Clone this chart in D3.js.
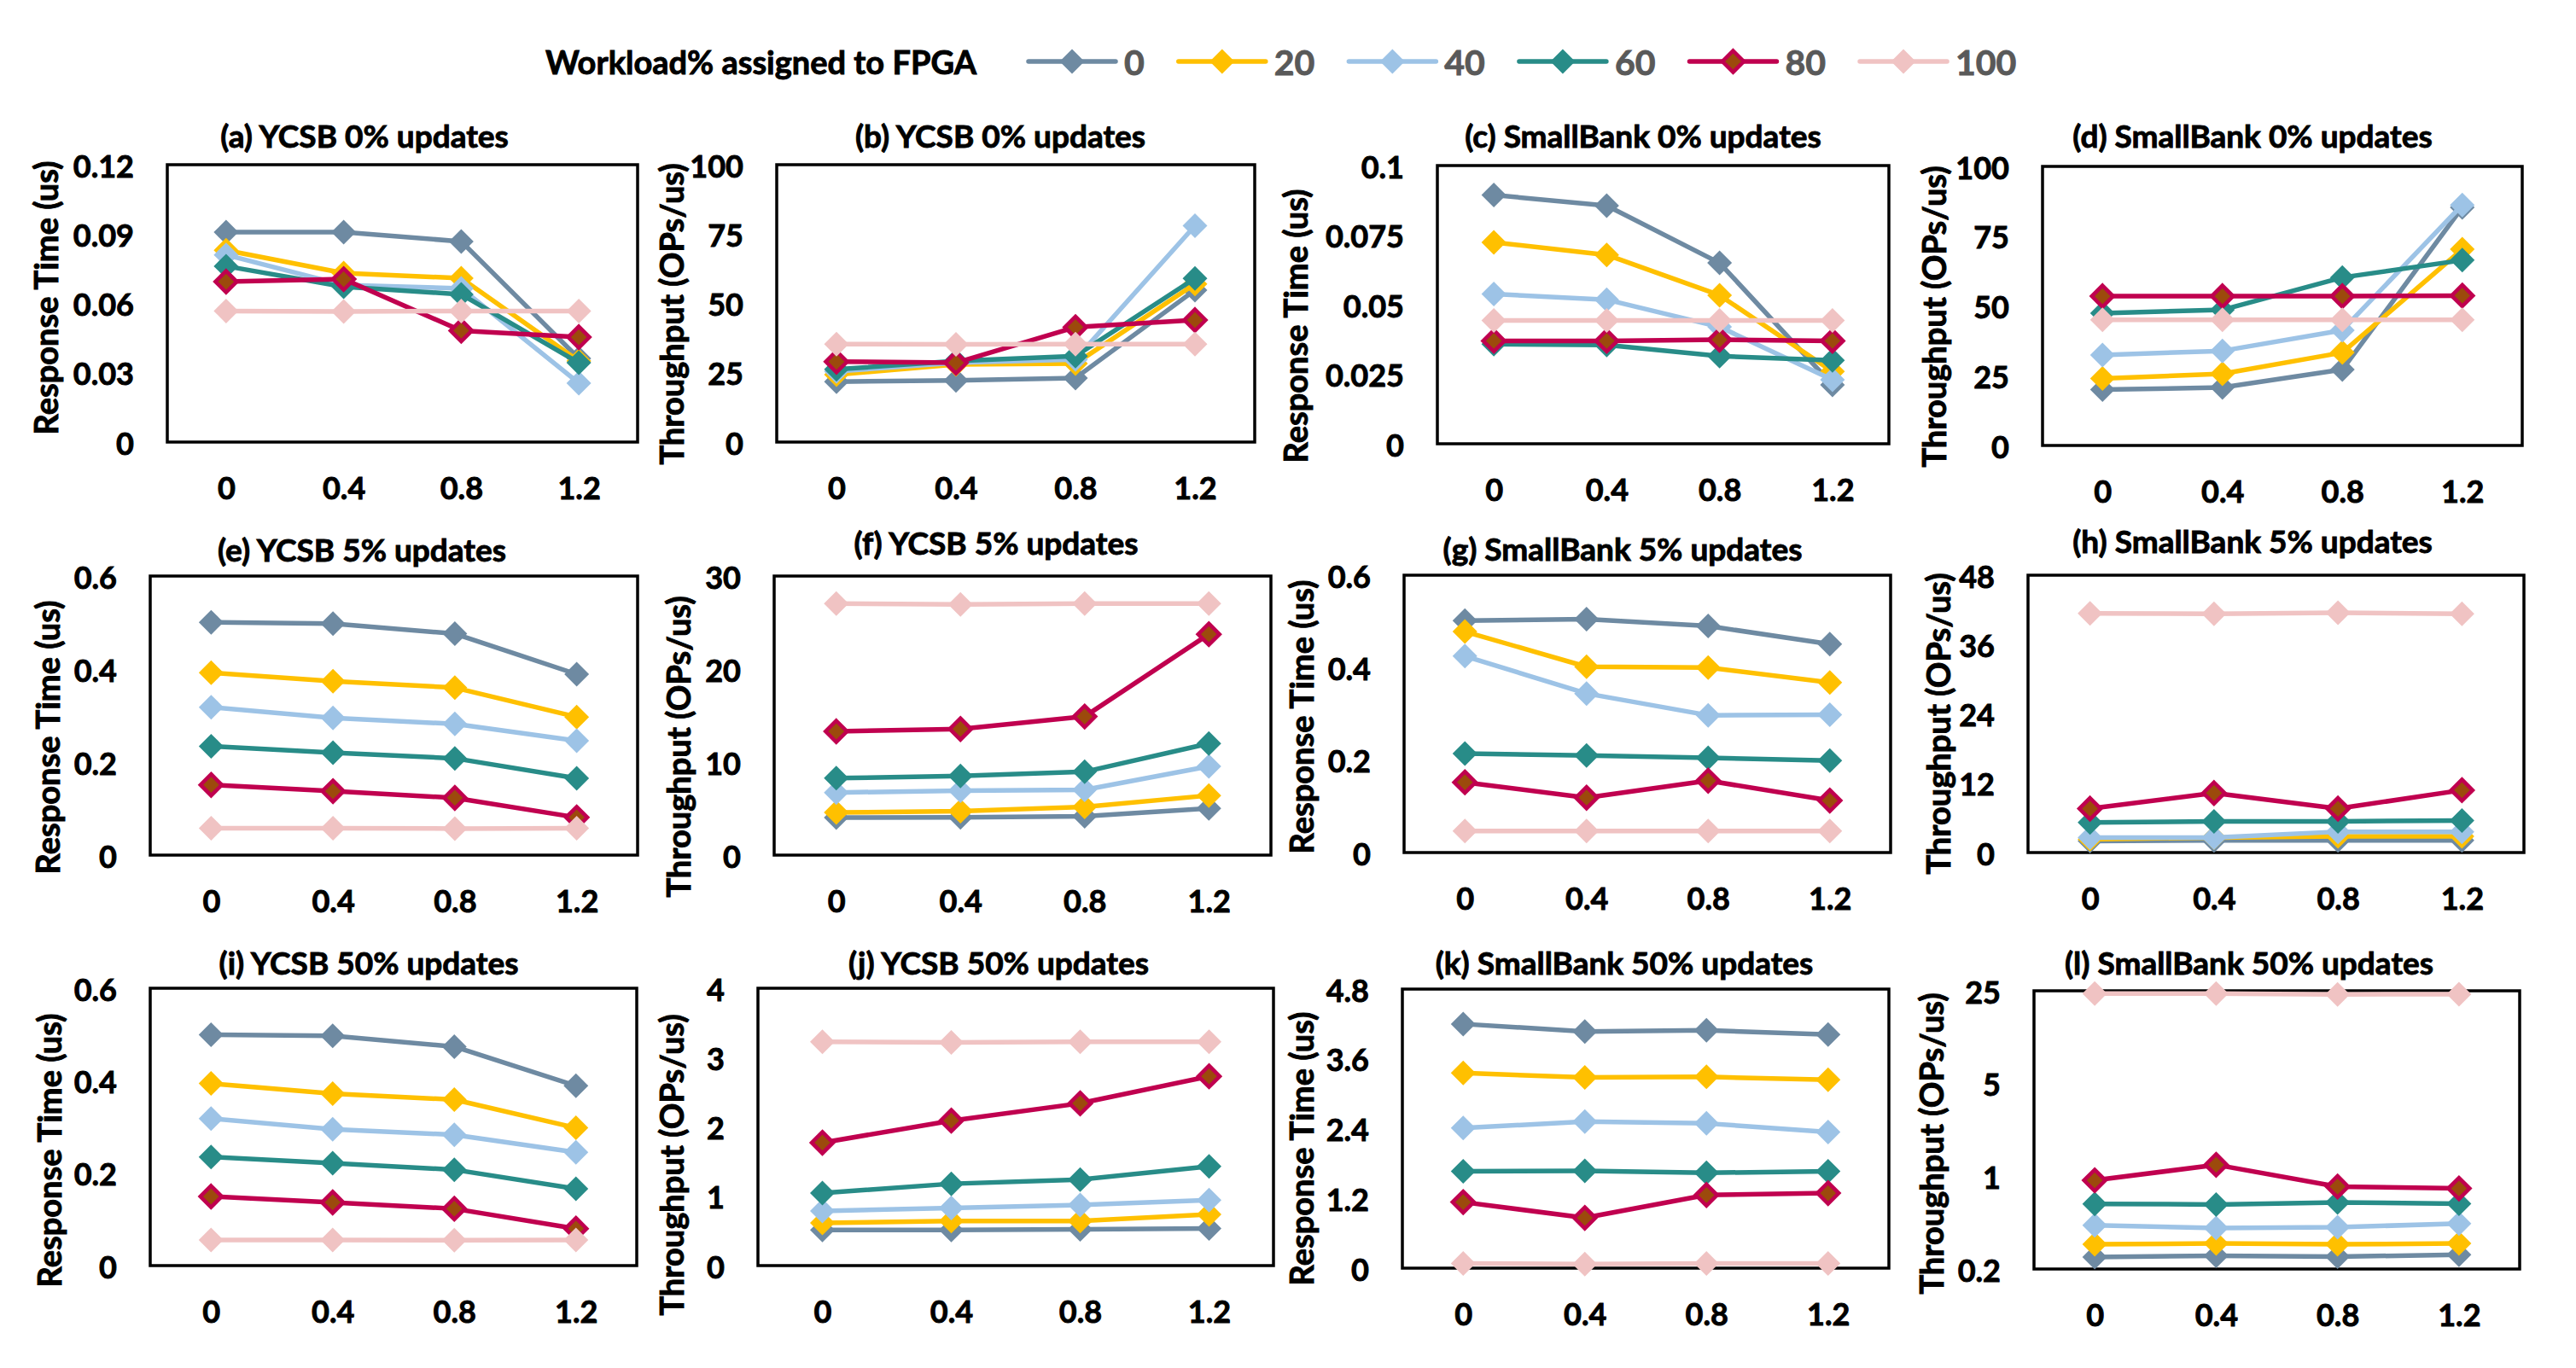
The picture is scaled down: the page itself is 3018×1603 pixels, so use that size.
<!DOCTYPE html>
<html>
<head>
<meta charset="utf-8">
<script src="https://cdn.jsdelivr.net/npm/d3@7"></script>
<style>
  body { margin: 0; background: #fff; }
  text { font-family: Lato, "Open Sans", sans-serif; font-weight: bold; }
</style>
</head>
<body>
<div id="chart"></div>
<script>
// categories on the x axis and the legend series
const xCats = ["0", "0.4", "0.8", "1.2"];
const seriesNames = ["0", "20", "40", "60", "80", "100"];
const seriesColors = ["#6E8AA2", "#FFC000", "#9DC3E6", "#288C88", "#C0004F", "#F0C3C3"];
const markerFill = ["#6E8AA2", "#FFC000", "#9DC3E6", "#288C88", "#9C4A0C", "#F0C3C3"];

const titles = [
  "(a) YCSB 0% updates", "(b) YCSB 0% updates", "(c) SmallBank 0% updates", "(d) SmallBank 0% updates",
  "(e) YCSB 5% updates", "(f) YCSB 5% updates", "(g) SmallBank 5% updates", "(h) SmallBank 5% updates",
  "(i) YCSB 50% updates", "(j) YCSB 50% updates", "(k) SmallBank 50% updates", "(l) SmallBank 50% updates"
];
const yLabels = ["Response Time (us)", "Throughput (OPs/us)"];

// y ticks per panel
const ticksA = [0, 0.03, 0.06, 0.09, 0.12];
const ticksB = [0, 25, 50, 75, 100];
const ticksC = [0, 0.025, 0.05, 0.075, 0.1];
const ticksD = [0, 25, 50, 75, 100];
const ticksE = [0, 0.2, 0.4, 0.6];
const ticksF = [0, 10, 20, 30];
const ticksG = [0, 0.2, 0.4, 0.6];
const ticksH = [0, 12, 24, 36, 48];
const ticksI = [0, 0.2, 0.4, 0.6];
const ticksJ = [0, 1, 2, 3, 4];
const ticksK = [0, 1.2, 2.4, 3.6, 4.8];
const ticksL = [0.2, 1, 5, 25];

// values, one row per series (0,20,40,60,80,100)
const dataA = [
  [0.0908, 0.0908, 0.0868, 0.0362],
  [0.083, 0.0731, 0.0709, 0.0351],
  [0.081, 0.0679, 0.0665, 0.0255],
  [0.0761, 0.0672, 0.0639, 0.0343],
  [0.0694, 0.0705, 0.0482, 0.0454],
  [0.0567, 0.0565, 0.0567, 0.0567]
];
const dataB = [
  [21.8, 22.2, 23.1, 54.8],
  [24.3, 28, 28.3, 57],
  [25.5, 28.6, 29.8, 78],
  [26.2, 29.2, 31, 59],
  [29, 28.6, 41.4, 44],
  [35.3, 35.2, 35.3, 35.3]
];
const dataC = [
  [0.0894, 0.0856, 0.065, 0.0212],
  [0.0724, 0.0679, 0.0534, 0.026],
  [0.0538, 0.0518, 0.042, 0.023],
  [0.0358, 0.0355, 0.0315, 0.030],
  [0.037, 0.037, 0.0374, 0.037],
  [0.0443, 0.0443, 0.0443, 0.0443]
];
const dataD = [
  [20, 20.8, 27.2, 85.3],
  [24, 25.7, 33.3, 70.3],
  [32.4, 33.9, 41.3, 86.2],
  [47.4, 48.6, 60.2, 66.4],
  [53.5, 53.5, 53.5, 53.7],
  [45, 45, 45, 45]
];
const dataE = [
  [0.5006, 0.4975, 0.476, 0.389],
  [0.392, 0.374, 0.360, 0.297],
  [0.318, 0.295, 0.282, 0.246],
  [0.234, 0.220, 0.208, 0.165],
  [0.151, 0.1375, 0.123, 0.081],
  [0.058, 0.058, 0.057, 0.058]
];
const dataF = [
  [4.04, 4.05, 4.17, 5.03],
  [4.58, 4.73, 5.19, 6.41],
  [6.73, 6.92, 7.02, 9.54],
  [8.27, 8.5, 8.96, 12.0],
  [13.3, 13.56, 14.9, 23.75],
  [27.05, 26.96, 27.05, 27.05]
];
const dataG = [
  [0.5016, 0.505, 0.49, 0.451],
  [0.478, 0.402, 0.40, 0.368],
  [0.425, 0.344, 0.297, 0.298],
  [0.214, 0.21, 0.205, 0.199],
  [0.152, 0.1187, 0.1555, 0.1125],
  [0.0467, 0.0467, 0.0467, 0.0467]
];
const dataH = [
  [2.0, 2.1, 2.1, 2.1],
  [2.3, 2.6, 2.8, 2.8],
  [2.6, 2.6, 3.6, 3.6],
  [5.2, 5.4, 5.4, 5.55],
  [7.6, 10.3, 7.6, 10.8],
  [41.4, 41.3, 41.5, 41.3]
];
const dataI = [
  [0.4996, 0.497, 0.4737, 0.389],
  [0.394, 0.372, 0.359, 0.298],
  [0.318, 0.295, 0.283, 0.245],
  [0.235, 0.2216, 0.2074, 0.166],
  [0.1495, 0.1367, 0.123, 0.080],
  [0.0556, 0.0556, 0.055, 0.0556]
];
const dataJ = [
  [0.514, 0.514, 0.522, 0.534],
  [0.616, 0.644, 0.644, 0.739],
  [0.789, 0.83, 0.874, 0.944],
  [1.047, 1.18, 1.24, 1.43],
  [1.773, 2.09, 2.34, 2.73],
  [3.228, 3.22, 3.228, 3.228]
];
const dataK = [
  [4.2, 4.07, 4.09, 4.02],
  [3.357, 3.28, 3.29, 3.24],
  [2.41, 2.52, 2.49, 2.34],
  [1.665, 1.674, 1.64, 1.665],
  [1.136, 0.865, 1.258, 1.29],
  [0.08, 0.07, 0.08, 0.08]
];
const dataL = [
  [0.246, 0.252, 0.248, 0.256],
  [0.307, 0.312, 0.307, 0.312],
  [0.427, 0.407, 0.413, 0.44],
  [0.619, 0.613, 0.634, 0.622],
  [0.932, 1.22, 0.836, 0.81],
  [23.8, 23.8, 23.5, 23.6]
];

const allData = [dataA, dataB, dataC, dataD, dataE, dataF, dataG, dataH, dataI, dataJ, dataK, dataL];
const allTicks = [ticksA, ticksB, ticksC, ticksD, ticksE, ticksF, ticksG, ticksH, ticksI, ticksJ, ticksK, ticksL];

// plot boxes: [left, top, right, bottom], title centre, y label centre
const layout = [
  { box: [196, 193, 747, 518], tx: 427, ty: 158, lx: 53, ly: 349 },
  { box: [910, 193, 1470, 518], tx: 1172, ty: 158, lx: 786, ly: 368 },
  { box: [1684, 194, 2213, 520], tx: 1925, ty: 158, lx: 1517, ly: 382 },
  { box: [2393, 195, 2955, 522], tx: 2639, ty: 158, lx: 2265, ly: 371 },
  { box: [176, 675, 747, 1002], tx: 424, ty: 643, lx: 55, ly: 864 },
  { box: [907, 675, 1489, 1002], tx: 1167, ty: 635, lx: 794, ly: 875 },
  { box: [1645, 674, 2215, 999], tx: 1901, ty: 642, lx: 1524, ly: 840 },
  { box: [2376, 674, 2957, 999], tx: 2639, ty: 633, lx: 2270, ly: 848 },
  { box: [176, 1158, 746, 1483], tx: 432, ty: 1127, lx: 57, ly: 1348 },
  { box: [888, 1158, 1492, 1483], tx: 1170, ty: 1127, lx: 786, ly: 1365 },
  { box: [1643, 1159, 2213, 1486], tx: 1903, ty: 1127, lx: 1524, ly: 1346 },
  { box: [2383, 1161, 2952, 1487], tx: 2635, ty: 1127, lx: 2262, ly: 1340 }
];

const width = 3018;
const height = 1603;

const svg = d3.select("#chart").append("svg")
  .attr("width", width)
  .attr("height", height);

svg.append("rect").attr("width", width).attr("height", height).attr("fill", "#fff");

const diamond = r => `M0,${-r}L${r},0L0,${r}L${-r},0Z`;

function drawMarker(g, i, r) {
  if (i === 4) {
    g.attr("d", diamond(r - 2)).attr("fill", markerFill[i])
      .attr("stroke", seriesColors[i]).attr("stroke-width", 4.5).attr("stroke-linejoin", "miter");
  } else {
    g.attr("d", diamond(r)).attr("fill", markerFill[i]);
  }
}

// Calibri bold is heavier than Lato bold, so thicken glyphs a bit
function heavy(sel, color) {
  sel.attr("stroke", color).attr("stroke-width", 0.9).attr("paint-order", "stroke");
}

allData.forEach((data, p) => {
  const L = layout[p];
  const [x0, y0, x1, y1] = L.box;
  const ticks = allTicks[p];
  const isLog = p === 11;

  const x = d3.scalePoint().domain(xCats).range([x0, x1]).padding(0.5);
  const y = isLog
    ? d3.scaleLog().base(5).domain([0.2, 25]).range([y1, y0])
    : d3.scaleLinear().domain([0, ticks[ticks.length - 1]]).range([y1, y0]);

  const g = svg.append("g");

  // plot area border
  g.append("rect")
    .attr("x", x0).attr("y", y0)
    .attr("width", x1 - x0).attr("height", y1 - y0)
    .attr("fill", "none").attr("stroke", "#000").attr("stroke-width", 3.5);

  // y axis tick labels
  const yAxis = d3.axisLeft(y).tickValues(ticks).tickSize(0).tickPadding(39)
    .tickFormat(d => String(d));
  g.append("g").attr("transform", `translate(${x0},0)`).call(yAxis)
    .call(a => a.select(".domain").remove())
    .selectAll("text")
    .attr("font-size", 36).attr("fill", "#000")
    .attr("dy", null).attr("dominant-baseline", "central")
    .call(heavy, "#000");

  // x axis tick labels
  const xAxis = d3.axisBottom(x).tickSize(0);
  g.append("g").attr("transform", `translate(0,${y1})`).call(xAxis)
    .call(a => a.select(".domain").remove())
    .selectAll("text")
    .attr("font-size", 36).attr("fill", "#000")
    .attr("dy", null).attr("y", 53).attr("dominant-baseline", "central")
    .call(heavy, "#000");

  // title
  g.append("text")
    .attr("x", L.tx).attr("y", L.ty)
    .attr("text-anchor", "middle").attr("dominant-baseline", "central")
    .attr("font-size", 37)
    .text(titles[p])
    .call(heavy, "#000");

  // y label
  g.append("text")
    .attr("transform", `translate(${L.lx},${L.ly}) rotate(-90)`)
    .attr("text-anchor", "middle").attr("dominant-baseline", "central")
    .attr("font-size", 38)
    .text(yLabels[p % 2])
    .call(heavy, "#000");

  // series
  const line = d3.line().x((d, j) => x(xCats[j])).y(d => y(d));
  data.forEach((vals, i) => {
    const s = g.append("g");
    s.append("path")
      .attr("d", line(vals))
      .attr("fill", "none")
      .attr("stroke", seriesColors[i])
      .attr("stroke-width", 5.5)
      .attr("stroke-linejoin", "round");
    s.selectAll(".m").data(vals).enter().append("path")
      .attr("transform", (d, j) => `translate(${x(xCats[j])},${y(d)})`)
      .each(function () { drawMarker(d3.select(this), i, 14.5); });
  });
});

// legend
const legY = 72;
const leg = svg.append("g");
leg.append("text")
  .attr("x", 639).attr("y", legY)
  .attr("dominant-baseline", "central")
  .attr("font-size", 38)
  .text("Workload% assigned to FPGA")
  .call(heavy, "#000");

let lx = 1205;
seriesNames.forEach((name, i) => {
  leg.append("line")
    .attr("x1", lx).attr("x2", lx + 102)
    .attr("y1", legY).attr("y2", legY)
    .attr("stroke", seriesColors[i]).attr("stroke-width", 5.5).attr("stroke-linecap", "round");
  leg.append("path")
    .attr("transform", `translate(${lx + 51},${legY})`)
    .each(function () { drawMarker(d3.select(this), i, 14.5); });
  const t = leg.append("text")
    .attr("x", lx + 112).attr("y", legY)
    .attr("dominant-baseline", "central")
    .attr("font-size", 41).attr("fill", "#595959")
    .text(name)
    .call(heavy, "#595959");
  lx += 112 + t.node().getComputedTextLength() + 40;
});
</script>
</body>
</html>
